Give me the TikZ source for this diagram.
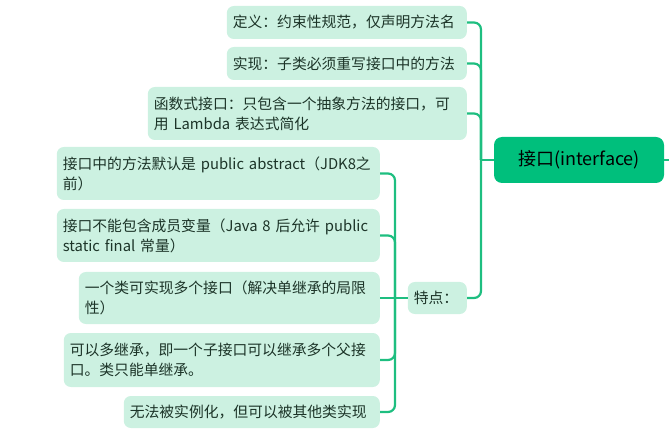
\documentclass[tikz,border=0pt]{standalone}
\usepackage{fontspec}
\setmainfont{Noto Sans CJK SC}
\definecolor{leaf}{RGB}{204,241,225}
\definecolor{trunk}{RGB}{0,191,124}
\definecolor{branch}{RGB}{30,190,128}
\definecolor{ink}{RGB}{28,52,40}
\begin{document}
\begin{tikzpicture}[x=1pt, y=-1pt,
  box/.style={fill=leaf, rounded corners=7pt, text=ink, inner xsep=6pt, inner ysep=0pt, align=left, anchor=east, text width=#1, font=\fontsize{14.8}{20}\selectfont},
  rootbox/.style={fill=trunk, rounded corners=8pt, text=black, minimum width=170pt, minimum height=46pt, font=\fontsize{18}{20}\selectfont},
  link/.style={draw=branch, line width=2.2pt, rounded corners=7pt}]
  \useasboundingbox (0,0) rectangle (669,430);
  \node[rootbox] (root) at (579,160) {接口(interface)};
  \node[box=228pt, minimum height=33pt] (def) at (467,22.5) {定义：约束性规范，仅声明方法名};
  \node[box=228pt, minimum height=33pt] (impl) at (467,63.5) {实现：子类必须重写接口中的方法};
  \node[box=307pt, minimum height=53pt] (func) at (467,113.5) {函数式接口：只包含一个抽象方法的接口，可\\用 Lambda 表达式简化};
  \node[box=47pt, minimum height=32pt] (feat) at (467,298) {特点：};
  \node[box=311pt, minimum height=53pt] (dflt) at (380,173.5) {接口中的方法默认是 public abstract（JDK8之\\前）};
  \node[box=311pt, minimum height=53pt] (novar) at (380,235.5) {接口不能包含成员变量（Java 8 后允许 public\\static final 常量）};
  \node[box=289pt, minimum height=52pt] (multi) at (380,298) {一个类可实现多个接口（解决单继承的局限\\性）};
  \node[box=304pt, minimum height=54pt] (inher) at (380,360) {可以多继承，即一个子接口可以继承多个父接\\口。类只能单继承。};
  \node[box=244pt, minimum height=32pt] (noinst) at (380,412) {无法被实例化，但可以被其他类实现};
  \coordinate (rtrunk) at (481,160);
  \coordinate (ltrunk) at (395,298);
  \coordinate (rend) at (669,160);
  \draw[link] (root.west) -- (rtrunk);
  \draw[link] (root.east) -- (rend);
  \draw[link] (rtrunk) |- (def.east);
  \draw[link] (rtrunk) |- (impl.east);
  \draw[link] (rtrunk) |- (func.east);
  \draw[link] (rtrunk) |- (feat.east);
  \draw[link] (feat.west) -- (ltrunk);
  \draw[link] (ltrunk) |- (dflt.east);
  \draw[link] (ltrunk) |- (novar.east);
  \draw[link] (ltrunk) -- (multi.east);
  \draw[link] (ltrunk) |- (inher.east);
  \draw[link] (ltrunk) |- (noinst.east);
\end{tikzpicture}
\end{document}
